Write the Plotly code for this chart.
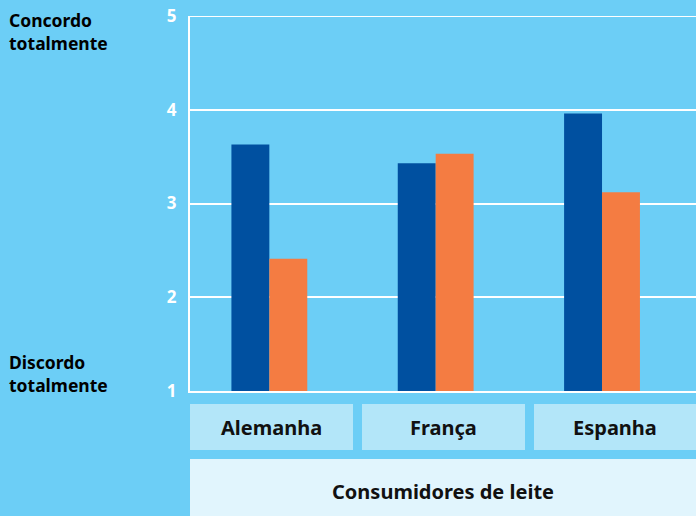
import plotly.graph_objects as go

categories = ["Alemanha", "França", "Espanha"]
serie_a = [3.63, 3.43, 3.96]
serie_b = [2.41, 3.53, 3.12]
y_ticks = [1, 2, 3, 4, 5]
x_title = "Consumidores de leite"
top_label = "Concordo<br>totalmente"
bottom_label = "Discordo<br>totalmente"

BG = "#6ccef6"
BLUE = "#0050a0"
ORANGE = "#f47c42"
FONT = "Noto Sans"

W, H = 696, 516
L, R, T, B = 190, 0, 16, 125
pw = W - L - R
ph = H - T - B

def px_x(px):
    return (px - L) / pw

def px_y(py):
    return (H - B - py) / ph

fig = go.Figure()
fig.add_trace(go.Bar(x=categories, y=[v - 1 for v in serie_a], base=1,
                     marker=dict(color=BLUE, line=dict(width=0)), showlegend=False))
fig.add_trace(go.Bar(x=categories, y=[v - 1 for v in serie_b], base=1,
                     marker=dict(color=ORANGE, line=dict(width=0)), showlegend=False))

shapes = []
boxes = [(190, 353), (362, 525), (534, 697)]
for (x0, x1) in boxes:
    shapes.append(dict(type="rect", xref="paper", yref="paper",
                       x0=px_x(x0), x1=px_x(x1), y0=px_y(450), y1=px_y(404),
                       fillcolor="#b3e6f9", line=dict(width=0), layer="below"))
shapes.append(dict(type="rect", xref="paper", yref="paper",
                   x0=px_x(190), x1=px_x(700), y0=px_y(520), y1=px_y(459),
                   fillcolor="#e1f5fd", line=dict(width=0), layer="below"))
shapes.append(dict(type="line", xref="paper", yref="y", x0=0, x1=1,
                   y0=y_ticks[-1], y1=y_ticks[-1],
                   line=dict(color="white", width=2), layer="below"))

annotations = []
centers = [271, 443, 615]
for cat, cx in zip(categories, centers):
    annotations.append(dict(text="<b>%s</b>" % cat, xref="paper", yref="paper",
                            x=px_x(cx), y=px_y(427), showarrow=False,
                            xanchor="center", yanchor="middle",
                            font=dict(family=FONT, size=20, color="#111111")))
annotations.append(dict(text="<b>%s</b>" % x_title, xref="paper", yref="paper",
                        x=px_x(443), y=px_y(491), showarrow=False,
                        xanchor="center", yanchor="middle",
                        font=dict(family=FONT, size=20, color="#111111")))
annotations.append(dict(text="<b>%s</b>" % top_label, xref="paper", yref="paper",
                        x=px_x(7), y=px_y(31), showarrow=False, align="left",
                        xanchor="left", yanchor="middle",
                        font=dict(family=FONT, size=17.5, color="#000000")))
annotations.append(dict(text="<b>%s</b>" % bottom_label, xref="paper", yref="paper",
                        x=px_x(7), y=px_y(373), showarrow=False, align="left",
                        xanchor="left", yanchor="middle",
                        font=dict(family=FONT, size=17.5, color="#000000")))

fig.update_layout(
    width=W, height=H,
    margin=dict(l=L, r=R, t=T, b=B, pad=0),
    paper_bgcolor=BG, plot_bgcolor=BG,
    barmode="group", bargap=0.544, bargroupgap=0,
    shapes=shapes, annotations=annotations,
    font=dict(family=FONT),
    xaxis=dict(range=[-0.477, 2.565], showticklabels=False, showgrid=False,
               showline=True, linecolor="white", linewidth=2, zeroline=False,
               ticks=""),
    yaxis=dict(range=[1, 5], tickvals=y_ticks, showgrid=True, gridcolor="white",
               gridwidth=2, showline=True, linecolor="white", linewidth=2,
               zeroline=False, ticks="", ticklabelstandoff=8,
               tickfont=dict(family=FONT, size=17, color="white", weight="bold")),
)

fig.write_html("out.html")
